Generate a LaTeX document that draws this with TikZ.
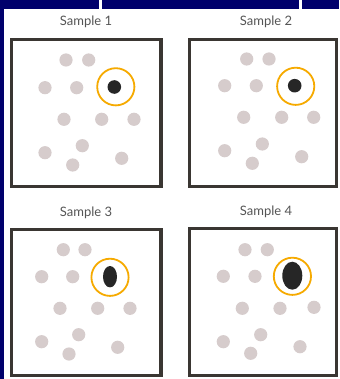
\documentclass[tikz,border=0pt]{standalone}
\usepackage{fontspec}
\setmainfont{Lato}
\definecolor{navy}{RGB}{0,0,108}
\definecolor{framegray}{RGB}{58,54,50}
\definecolor{dotgray}{RGB}{214,204,204}
\definecolor{ringorange}{RGB}{246,170,0}
\definecolor{labelgray}{RGB}{85,85,85}
\begin{document}
\begin{tikzpicture}[x=1pt,y=-1pt,
  samplebox/.style={draw=framegray,line width=3.4pt},
  graydot/.style={fill=dotgray},
  blackspot/.style={fill=black!85},
  ring/.style={draw=ringorange,line width=1.8pt},
  samplelabel/.style={text=labelgray,font=\fontsize{13}{15}\selectfont,inner sep=0pt}]
\useasboundingbox (0,0) rectangle (339,379);
% background
\fill[navy] (0,0) rectangle (339,379);
\fill[white] (4,9) rectangle (339,379);
\fill[white] (98.5,0) rectangle (101.5,9);
\fill[white] (298.5,0) rectangle (301.5,9);
% labels
\node[samplelabel] (l1) at (86,22) {Sample 1};
\node[samplelabel] (l2) at (266,22) {Sample 2};
\node[samplelabel] (l3) at (86,213) {Sample 3};
\node[samplelabel] (l4) at (266,212) {Sample 4};
% boxes
\draw[samplebox] (11.7,39.4) rectangle (161.1,186.5);
\draw[samplebox] (189.7,39.4) rectangle (336.3,186.5);
\draw[samplebox] (11.7,229.7) rectangle (161.1,375.3);
\draw[samplebox] (189.7,228.7) rectangle (336.3,375.3);
% sample 1 dots
\foreach \p in {(66,60),(88.7,60),(45,87.7),(76.7,87.7),(64,119.3),(101.7,119.3),(134,119.3),(45,152.7),(82.3,145.7),(72.7,165),(121.7,158.3)}
  \fill[graydot] \p circle (6.6);
\fill[blackspot] (114.3,87) circle (6.8);
\draw[ring] (115.8,86.8) circle (18.6);
% sample 2 dots
\foreach \p in {(246.7,59),(269,59),(224.7,85.7),(256.3,85.7),(243.7,117.3),(281.7,117.3),(313.7,117.3),(224.7,150.7),(262.3,144),(252.3,163.3),(301.7,156.7)}
  \fill[graydot] \p circle (6.6);
\fill[blackspot] (294.7,85.7) circle (6.8);
\draw[ring] (295.7,86.3) circle (18.6);
% sample 3 dots
\foreach \p in {(63.3,249.7),(85,249.7),(41.7,276.7),(72.7,276.7),(60,308.3),(97.7,308.3),(130,308.3),(41.7,341.7),(78.7,334.7),(69,354),(117.7,347.3)}
  \fill[graydot] \p circle (6.6);
\fill[blackspot] (110,276.7) ellipse (7 and 10.7);
\draw[ring] (110,277.3) circle (18.6);
% sample 4 dots
\foreach \p in {(245,249.7),(267.3,249.7),(223.3,276.3),(255,276.3),(242.3,308.3),(280,308.3),(314,307.3),(223.3,341.7),(260.7,334.7),(250.7,353.3),(300,346.7)}
  \fill[graydot] \p circle (6.6);
\fill[blackspot] (292.3,275.7) ellipse (10 and 14);
\draw[ring] (292.4,276.3) circle (18.6);
\end{tikzpicture}
\end{document}
